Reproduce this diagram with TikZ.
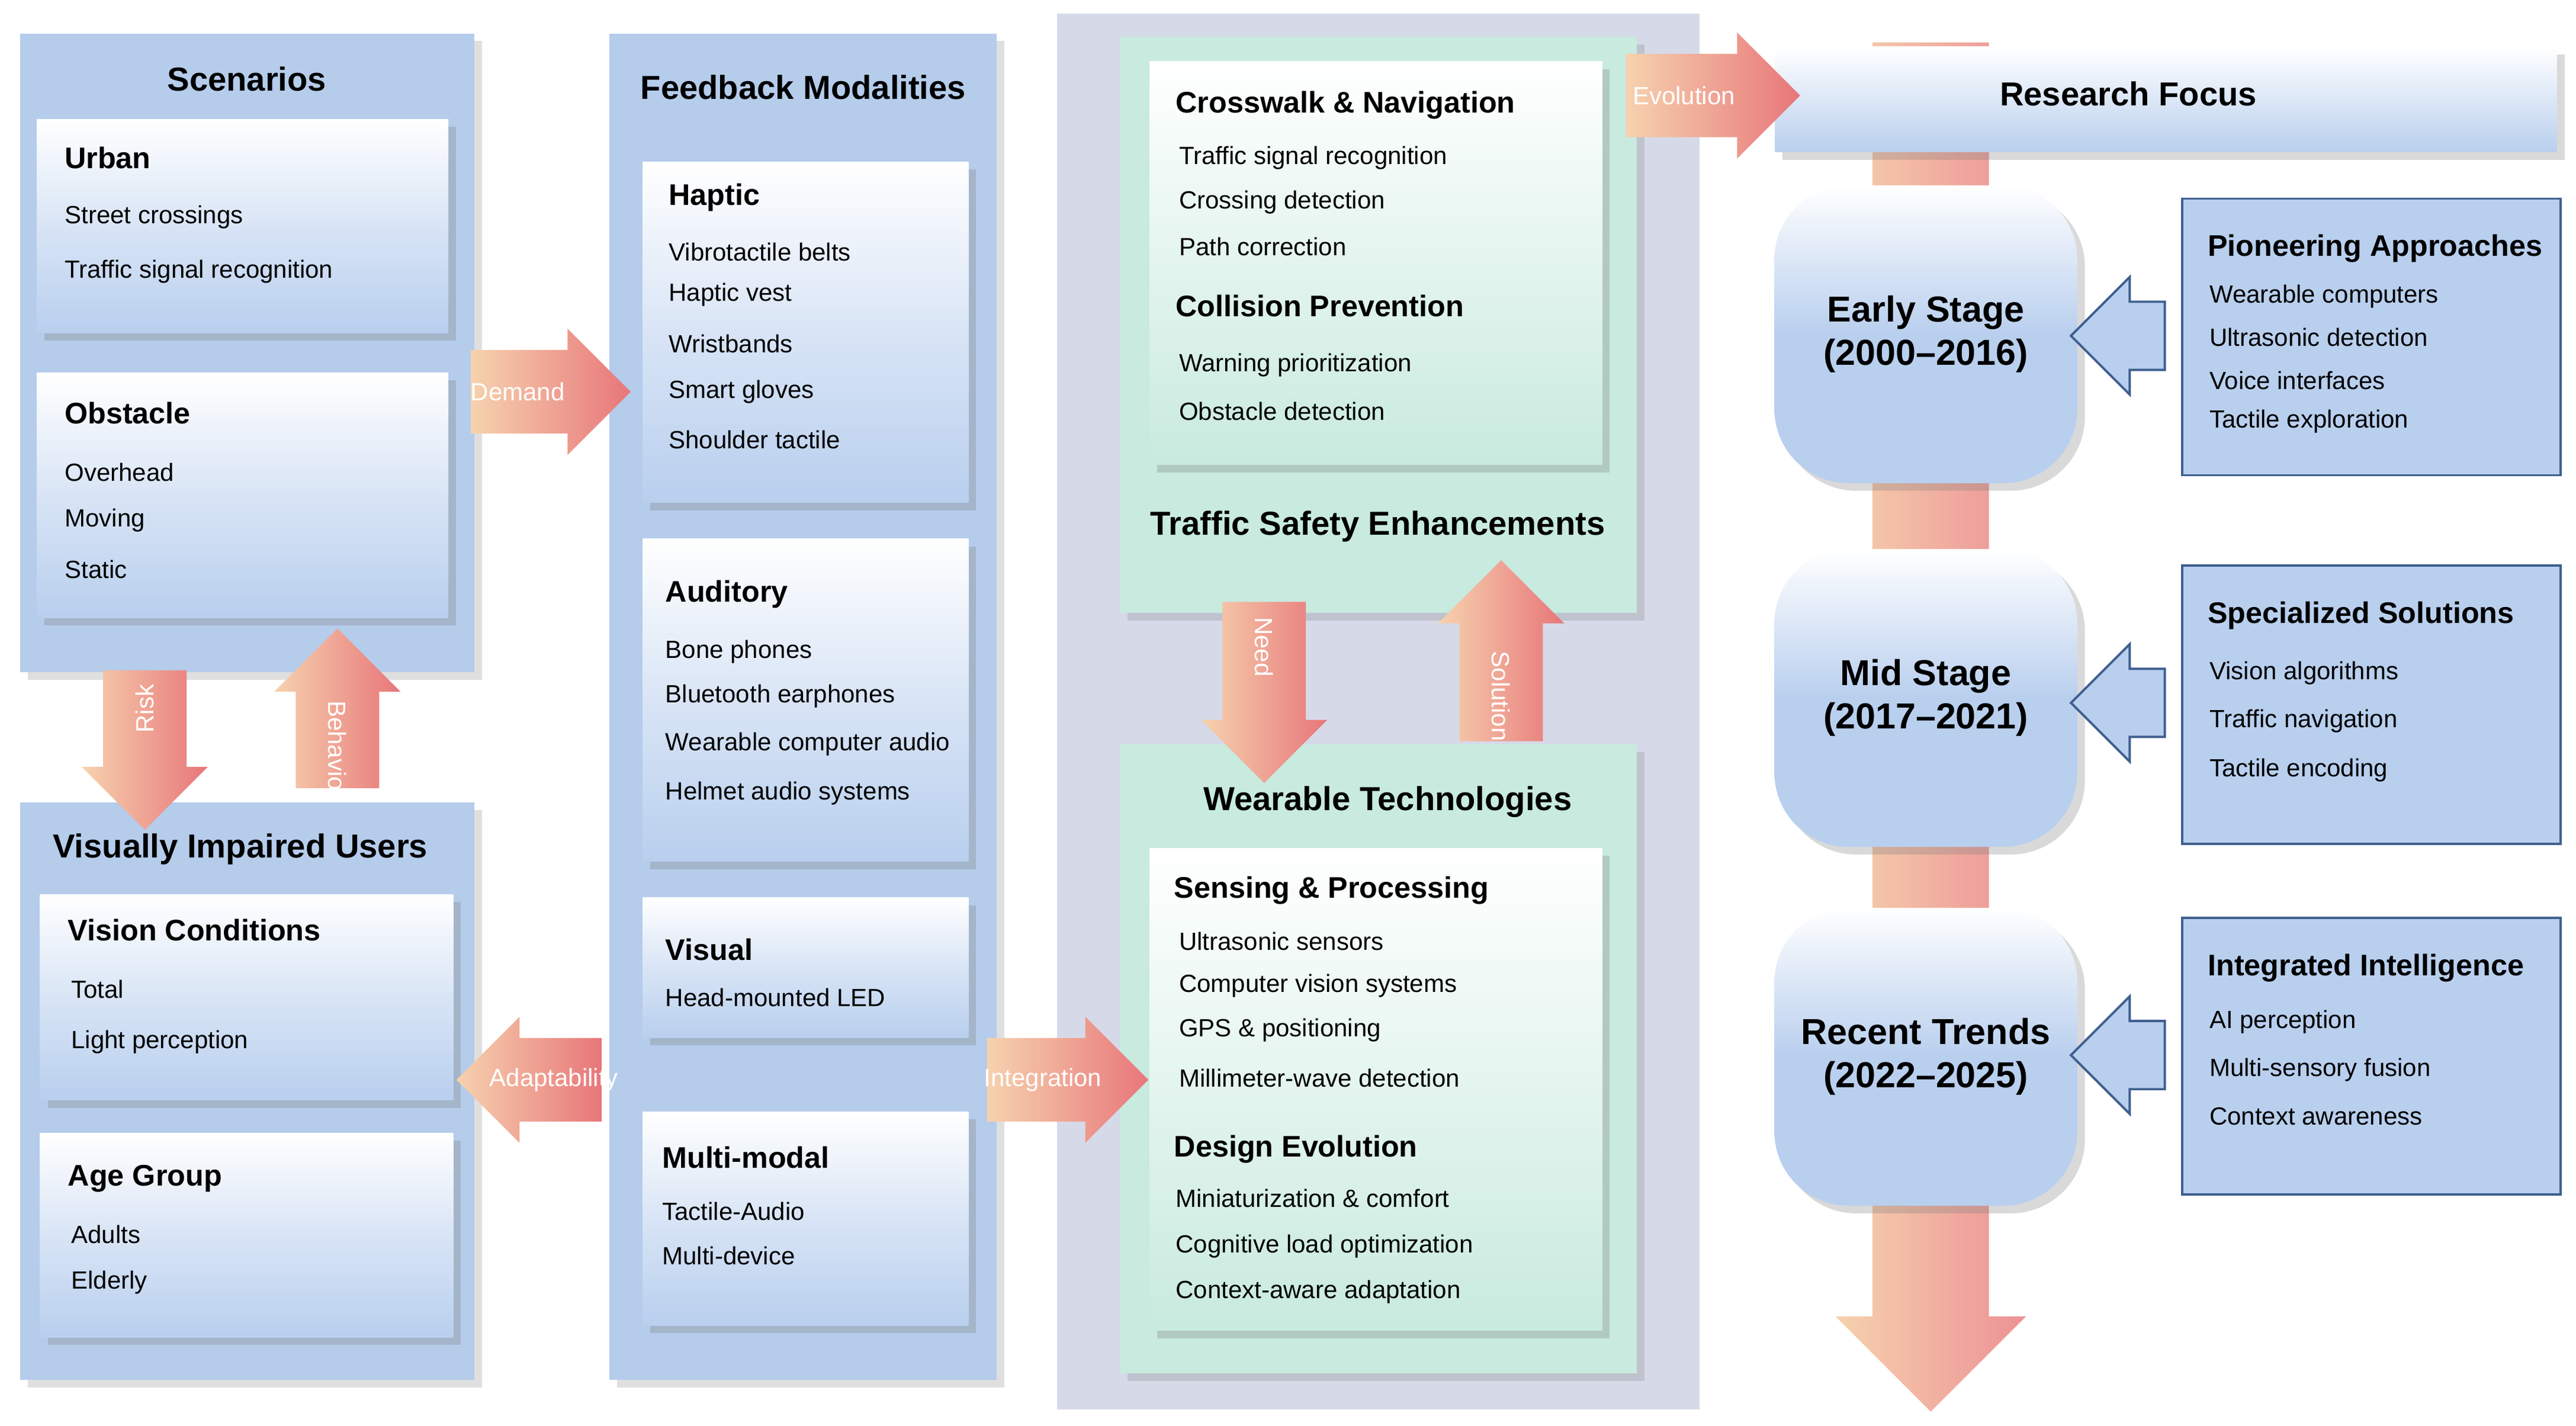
\documentclass[tikz,border=0pt]{standalone}
\usepackage{fontspec}
\setmainfont{Liberation Sans}
\usetikzlibrary{shapes.arrows,shadows,positioning}
\definecolor{panelblue}{HTML}{B5CCEB}
\definecolor{boxblue}{HTML}{B9CFEE}
\definecolor{tealpanel}{HTML}{C8EADF}
\definecolor{graypanel}{HTML}{D6DAE8}
\definecolor{edgeblue}{HTML}{3F5F8F}
\definecolor{flowpale}{HTML}{F6D2AE}
\definecolor{flowred}{HTML}{E8767A}
\newcommand\rect[6]{\node[#1, anchor=north west, inner sep=0pt,
  minimum width={(#5-#3)*0.02cm}, minimum height={(#6-#4)*0.02cm}] (#2) at (#3,#4) {};}
\begin{document}
\begin{tikzpicture}[x=0.02cm, y=-0.02cm,
    panel/.style={fill=panelblue, drop shadow={opacity=0.25}},
    box/.style={top color=white, bottom color=boxblue, middle color=boxblue!55!white,
        drop shadow={opacity=0.3}},
    tealbox/.style={top color=white, bottom color=tealpanel, drop shadow={opacity=0.3}},
    title/.style={font=\fontsize{11.5}{13}\selectfont\bfseries},
    head/.style={font=\fontsize{10.3}{12}\selectfont\bfseries, anchor=west, inner xsep=0pt},
    item/.style={font=\fontsize{8.6}{10}\selectfont, anchor=west, inner xsep=0pt},
    flow/.style={single arrow, single arrow head extend=0.26cm, inner xsep=0pt,
        inner ysep=0.5cm, left color=flowpale, right color=flowred},
    vflow/.style={flow, inner xsep=0.5cm, inner ysep=0pt},
    flowtext/.style={text=white, font=\fontsize{8.6}{10}\selectfont},
    stage/.style={rounded corners=0.9cm, minimum width=3.68cm, minimum height=3.62cm,
        top color=white, bottom color=boxblue, middle color=boxblue, align=center,
        font=\fontsize{12.5}{15}\selectfont\bfseries, drop shadow={opacity=0.3}},
    approach/.style={fill=boxblue, draw=edgeblue, thick},
    back/.style={single arrow, single arrow head extend=0.3cm, inner xsep=0pt,
        inner ysep=0.4cm, minimum height=1.14cm, shape border rotate=180,
        fill=boxblue, draw=edgeblue, thick}
]
\useasboundingbox (0,0) rectangle (1565,866);

% background panels
\rect{fill=graypanel}{bg}{642}{8}{1032}{856}
\node[single arrow, single arrow head extend=0.45cm, inner ysep=0pt, inner xsep=0.7cm,
    minimum height=16.64cm, shape border rotate=270, left color=flowpale,
    right color=flowred!80!white] (timeline) at (1173,424) {};

% scenarios
\rect{panel}{scn}{12}{20}{288}{408}
\node[title] (scn-t) at (150,48) {Scenarios};
\rect{box}{urban}{22}{72}{272}{202}
\node[head] (urban-t) at (39,96) {Urban};
\foreach \y/\t [count=\i] in {132/Street crossings, 165/Traffic signal recognition}
  \node[item] (urban-\i) at (39,\y) {\t};
\rect{box}{obst}{22}{226}{272}{375}
\node[head] (obst-t) at (39,251) {Obstacle};
\foreach \y/\t [count=\i] in {287/Overhead, 316/Moving, 346/Static}
  \node[item] (obst-\i) at (39,\y) {\t};

% users
\rect{panel}{vis}{12}{487}{288}{838}
\node[title] (vis-t) at (146,516) {Visually Impaired Users};
\rect{box}{cond}{24}{543}{275}{668}
\node[head] (cond-t) at (41,565) {Vision Conditions};
\foreach \y/\t [count=\i] in {601/Total, 633/Light perception}
  \node[item] (cond-\i) at (43,\y) {\t};
\rect{box}{age}{24}{688}{275}{812}
\node[head] (age-t) at (41,716) {Age Group};
\foreach \y/\t [count=\i] in {750/Adults, 779/Elderly}
  \node[item] (age-\i) at (43,\y) {\t};

% feedback modalities
\rect{panel}{fbm}{370}{20}{605}{838}
\node[title] (fbm-t) at (488,53) {Feedback Modalities};
\rect{box}{hap}{390}{98}{588}{305}
\node[head] (hap-t) at (406,120) {Haptic};
\foreach \y/\t [count=\i] in {153/Vibrotactile belts, 179/Haptic vest, 209/Wristbands,
    238/Smart gloves, 267/Shoulder tactile}
  \node[item] (hap-\i) at (406,\y) {\t};
\rect{box}{aud}{390}{327}{588}{523}
\node[head] (aud-t) at (404,361) {Auditory};
\foreach \y/\t [count=\i] in {396/Bone phones, 423/Bluetooth earphones,
    452/Wearable computer audio, 482/Helmet audio systems}
  \node[item] (aud-\i) at (404,\y) {\t};
\rect{box}{visu}{390}{545}{588}{630}
\node[head] (visu-t) at (404,577) {Visual};
\node[item] (visu-1) at (404,606) {Head-mounted LED};
\rect{box}{mm}{390}{675}{588}{805}
\node[head] (mm-t) at (402,703) {Multi-modal};
\foreach \y/\t [count=\i] in {736/Tactile-Audio, 763/Multi-device}
  \node[item] (mm-\i) at (402,\y) {\t};

% traffic safety
\rect{fill=tealpanel, drop shadow={opacity=0.25}}{tse}{680}{22}{994}{372}
\rect{tealbox}{cross}{698}{37}{973}{282}
\node[head] (cross-t) at (714,64) {Crosswalk \& Navigation};
\foreach \y/\t [count=\i] in {96/Traffic signal recognition, 123/Crossing detection,
    150/Path correction}
  \node[item] (cross-\i) at (716,\y) {\t};
\node[head] (coll-t) at (714,186) {Collision Prevention};
\foreach \y/\t [count=\i] in {222/Warning prioritization, 250/Obstacle detection}
  \node[item] (coll-\i) at (716,\y) {\t};
\node[title] (tse-t) at (837,320) {Traffic Safety Enhancements};

% wearable technologies
\rect{fill=tealpanel, drop shadow={opacity=0.25}}{wt}{680}{452}{994}{834}
\node[title] (wt-t) at (843,487) {Wearable Technologies};
\rect{tealbox}{sens}{698}{515}{973}{808}
\node[head] (sens-t) at (713,541) {Sensing \& Processing};
\foreach \y/\t [count=\i] in {572/Ultrasonic sensors, 599/Computer vision systems,
    626/GPS \& positioning, 655/Millimeter-wave detection}
  \node[item] (sens-\i) at (716,\y) {\t};
\node[head] (des-t) at (713,698) {Design Evolution};
\foreach \y/\t [count=\i] in {728/Miniaturization \& comfort, 757/Cognitive load optimization,
    785/Context-aware adaptation}
  \node[item] (des-\i) at (714,\y) {\t};

% research focus
\rect{top color=white, bottom color=boxblue, drop shadow={opacity=0.3}}{rf}{1078}{28}{1553}{92}
\node[title] (rf-t) at (1293,57) {Research Focus};
\node[stage] (early) at (1170,203) {Early Stage\\(2000--2016)};
\node[stage] (mid) at (1170,424) {Mid Stage\\(2017--2021)};
\node[stage] (recent) at (1170,642) {Recent Trends\\(2022--2025)};

\rect{approach}{pion}{1325}{120}{1555}{288}
\node[head] (pion-t) at (1341,151) {Pioneering Approaches};
\foreach \y/\t [count=\i] in {180/Wearable computers, 205/Ultrasonic detection,
    231/Voice interfaces, 256/Tactile exploration}
  \node[item] (pion-\i) at (1342,\y) {\t};
\rect{approach}{spec}{1325}{343}{1555}{512}
\node[head] (spec-t) at (1341,374) {Specialized Solutions};
\foreach \y/\t [count=\i] in {409/Vision algorithms, 438/Traffic navigation, 468/Tactile encoding}
  \node[item] (spec-\i) at (1342,\y) {\t};
\rect{approach}{integ}{1325}{557}{1555}{725}
\node[head] (integ-t) at (1341,588) {Integrated Intelligence};
\foreach \y/\t [count=\i] in {621/AI perception, 650/Multi-sensory fusion, 678/Context awareness}
  \node[item] (integ-\i) at (1342,\y) {\t};

\node[back] (to-early) at (1297,204) {};
\node[back] (to-mid) at (1297,427) {};
\node[back] (to-recent) at (1297,641) {};

% flows
\node[flow, minimum height=1.94cm] (demand) at (322,238) {};
\node[flowtext] at ([xshift=-0.15cm]demand) {Demand};
\node[vflow, minimum height=1.94cm, shape border rotate=270] (risk) at (88,443) {};
\node[flowtext, rotate=90] at ([yshift=0.25cm]risk) {Risk};
\node[vflow, minimum height=1.94cm, shape border rotate=90] (behav) at (205,443) {};
\node[flowtext, rotate=-90] at ([yshift=-0.25cm]behav) {Behavior};
\node[flow, minimum height=1.76cm, shape border rotate=180] (adapt) at (334,656) {};
\node[flowtext] at ([xshift=0.05cm]adapt) {Adaptability};
\node[flow, minimum height=1.96cm] (integr) at (636,656) {};
\node[flowtext] at ([xshift=-0.05cm]integr) {Integration};
\node[vflow, minimum height=2.2cm, shape border rotate=270] (need) at (768,408) {};
\node[flowtext, rotate=-90] at ([yshift=0.3cm]need) {Need};
\node[vflow, minimum height=2.2cm, shape border rotate=90] (sol) at (912,408) {};
\node[flowtext, rotate=-90] at ([yshift=-0.3cm]sol) {Solution};
\node[flow, minimum height=2.12cm] (evol) at (1028,58) {};
\node[flowtext] at ([xshift=-0.1cm]evol) {Evolution};

\end{tikzpicture}
\end{document}
